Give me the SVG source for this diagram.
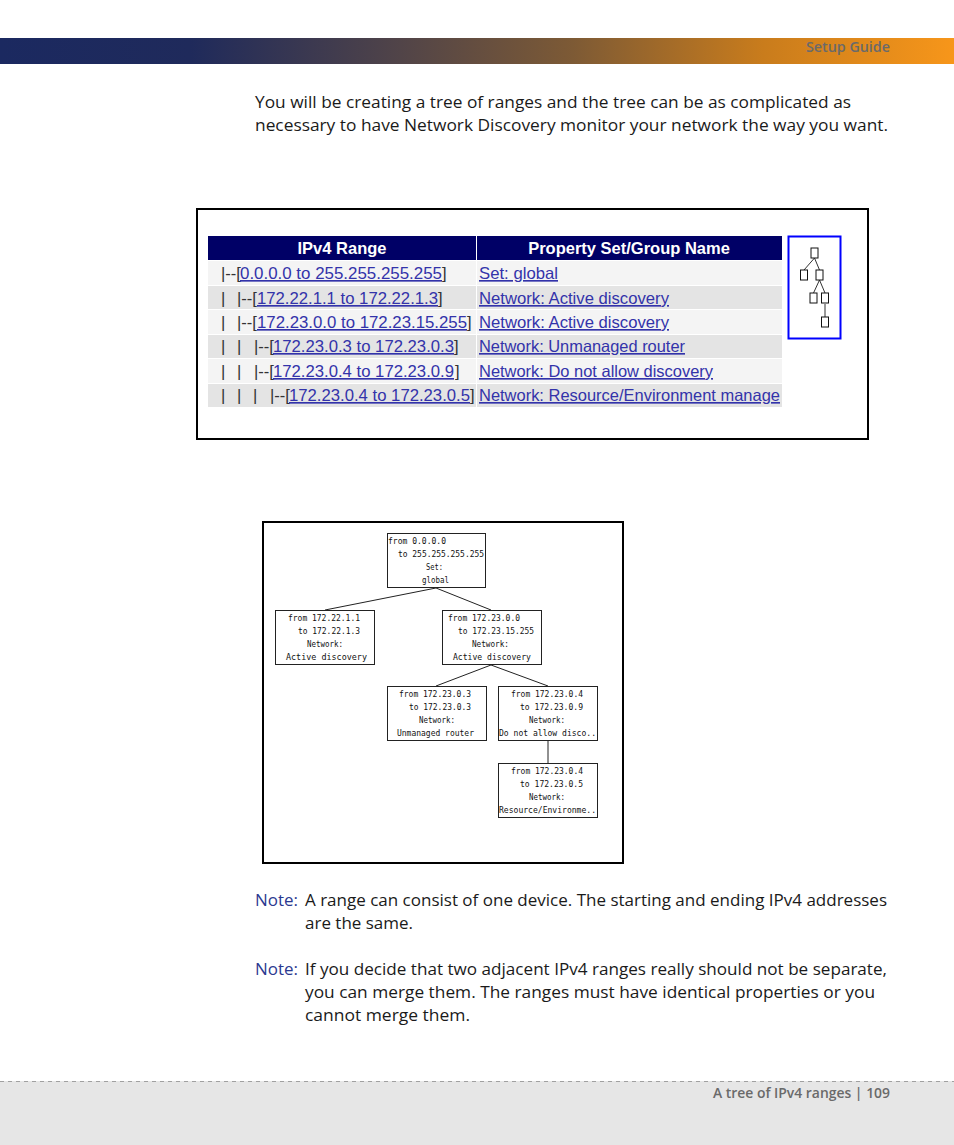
<svg xmlns="http://www.w3.org/2000/svg" width="954" height="1145" viewBox="0 0 954 1145">
<defs>
<linearGradient id="hdr" x1="0" y1="0" x2="1" y2="0">
<stop offset="0" stop-color="#1b2960"/>
<stop offset="0.2" stop-color="#1f2a5b"/>
<stop offset="0.42" stop-color="#514448"/>
<stop offset="0.6" stop-color="#7d5a35"/>
<stop offset="0.8" stop-color="#c97c1c"/>
<stop offset="1" stop-color="#f7961a"/>
</linearGradient>
<style>
.body{font-family:"Open Sans","Liberation Sans",sans-serif;font-size:17px;fill:#1a1a1a}
.note{fill:#2b3990}
.hf{font-family:"Open Sans","Liberation Sans",sans-serif;font-size:14px;font-weight:600;fill:#6a6a6a}
.th{font-family:"Liberation Sans",Arial,sans-serif;font-size:16.5px;font-weight:bold;fill:#ffffff}
.td{font-family:"Liberation Sans",Arial,sans-serif;font-size:16.5px;fill:#333333}
.lk{font-family:"Liberation Sans",Arial,sans-serif;font-size:16.5px;fill:#3333aa;text-decoration:underline}
.ra{fill:#f4f4f4}
.rb{fill:#e4e4e4}
.nb{fill:#ffffff;stroke:#222222;stroke-width:1}
.nt{font-family:"DejaVu Sans Mono","Liberation Mono",monospace;font-size:9px;fill:#111111}
.cn{stroke:#222222;stroke-width:1;fill:none}
.ib{fill:#ffffff;stroke:#111111;stroke-width:1}
.il{stroke:#333333;stroke-width:1;fill:none}
</style>
</defs>

<!-- header -->
<rect x="0" y="38" width="954" height="26" fill="url(#hdr)"/>
<text class="hf" x="890" y="52" text-anchor="end" textLength="84" lengthAdjust="spacingAndGlyphs">Setup Guide</text>

<!-- intro text -->
<text class="body" x="255" y="108" textLength="596" lengthAdjust="spacingAndGlyphs">You will be creating a tree of ranges and the tree can be as complicated as</text>
<text class="body" x="255" y="131" textLength="633" lengthAdjust="spacingAndGlyphs">necessary to have Network Discovery monitor your network the way you want.</text>

<!-- screenshot 1: table -->
<g id="table-screenshot">
<rect x="197" y="209" width="671" height="230" fill="#ffffff" stroke="#000000" stroke-width="2"/>
<rect x="208" y="236" width="268" height="24" fill="#000066"/>
<rect x="477" y="236" width="305" height="24" fill="#000066"/>
<text class="th" x="342" y="254" text-anchor="middle">IPv4 Range</text>
<text class="th" x="629" y="254" text-anchor="middle">Property Set/Group Name</text>

<rect class="ra" x="208" y="261" width="268" height="24"/><rect class="ra" x="477" y="261" width="305" height="24"/>
<rect class="rb" x="208" y="286" width="268" height="23"/><rect class="rb" x="477" y="286" width="305" height="23"/>
<rect class="ra" x="208" y="310" width="268" height="24"/><rect class="ra" x="477" y="310" width="305" height="24"/>
<rect class="rb" x="208" y="335" width="268" height="23"/><rect class="rb" x="477" y="335" width="305" height="23"/>
<rect class="ra" x="208" y="359" width="268" height="24"/><rect class="ra" x="477" y="359" width="305" height="24"/>
<rect class="rb" x="208" y="384" width="268" height="23"/><rect class="rb" x="477" y="384" width="305" height="23"/>

<text class="td" x="221" y="279">|--[</text>
<text class="lk" x="240" y="279" textLength="202" lengthAdjust="spacingAndGlyphs">0.0.0.0 to 255.255.255.255</text>
<text class="td" x="442" y="279">]</text>

<text class="td" x="221" y="304">|</text><text class="td" x="237" y="304">|--[</text>
<text class="lk" x="257" y="304" textLength="181" lengthAdjust="spacingAndGlyphs">172.22.1.1 to 172.22.1.3</text>
<text class="td" x="438" y="304">]</text>

<text class="td" x="221" y="328">|</text><text class="td" x="237" y="328">|--[</text>
<text class="lk" x="257" y="328" textLength="210" lengthAdjust="spacingAndGlyphs">172.23.0.0 to 172.23.15.255</text>
<text class="td" x="467" y="328">]</text>

<text class="td" x="221" y="352">|</text><text class="td" x="237" y="352">|</text><text class="td" x="254" y="352">|--[</text>
<text class="lk" x="273" y="352" textLength="181" lengthAdjust="spacingAndGlyphs">172.23.0.3 to 172.23.0.3</text>
<text class="td" x="454" y="352">]</text>

<text class="td" x="221" y="377">|</text><text class="td" x="237" y="377">|</text><text class="td" x="254" y="377">|--[</text>
<text class="lk" x="273" y="377" textLength="181" lengthAdjust="spacingAndGlyphs">172.23.0.4 to 172.23.0.9</text>
<text class="td" x="455" y="377">]</text>

<text class="td" x="221" y="401">|</text><text class="td" x="237" y="401">|</text><text class="td" x="253" y="401">|</text><text class="td" x="270" y="401">|--[</text>
<text class="lk" x="289" y="401" textLength="181" lengthAdjust="spacingAndGlyphs">172.23.0.4 to 172.23.0.5</text>
<text class="td" x="470" y="401">]</text>

<text class="lk" x="479" y="279" textLength="79" lengthAdjust="spacingAndGlyphs">Set: global</text>
<text class="lk" x="479" y="304" textLength="190" lengthAdjust="spacingAndGlyphs">Network: Active discovery</text>
<text class="lk" x="479" y="328" textLength="190" lengthAdjust="spacingAndGlyphs">Network: Active discovery</text>
<text class="lk" x="479" y="352" textLength="206" lengthAdjust="spacingAndGlyphs">Network: Unmanaged router</text>
<text class="lk" x="479" y="377" textLength="234" lengthAdjust="spacingAndGlyphs">Network: Do not allow discovery</text>
<text class="lk" x="479" y="401" textLength="301" lengthAdjust="spacingAndGlyphs">Network: Resource/Environment manage</text>

<!-- mini tree icon -->
<rect x="788.5" y="236.5" width="52" height="102" fill="#ffffff" stroke="#0000ff" stroke-width="2"/>
<path class="il" d="M814.5 258 L804 270 M814.5 258 L819.5 270 M819.5 280 L813.5 293 M819.5 280 L825 293 M825 304 L825 317"/>
<rect class="ib" x="811" y="248" width="7" height="10"/>
<rect class="ib" x="800.5" y="270" width="7" height="10"/>
<rect class="ib" x="816" y="270" width="7" height="10"/>
<rect class="ib" x="810" y="293" width="7" height="10"/>
<rect class="ib" x="821.5" y="293" width="7" height="10"/>
<rect class="ib" x="821.5" y="317" width="7" height="10"/>
</g>

<!-- screenshot 2: tree diagram -->
<rect x="263" y="522" width="360" height="341" fill="#ffffff" stroke="#000000" stroke-width="2"/>

<g id="connectors">
<line class="cn" x1="436" y1="588" x2="325" y2="610"/>
<line class="cn" x1="436" y1="588" x2="491" y2="610"/>
<line class="cn" x1="491" y1="665" x2="436" y2="686"/>
<line class="cn" x1="491" y1="665" x2="548" y2="686"/>
<line class="cn" x1="548" y1="741" x2="548" y2="763"/>
</g>

<g id="node-global">
<rect class="nb" x="387.5" y="533.5" width="98" height="54"/>
<text class="nt" x="388" y="544" textLength="58" lengthAdjust="spacingAndGlyphs">from 0.0.0.0</text>
<text class="nt" x="398" y="557" textLength="86" lengthAdjust="spacingAndGlyphs">to 255.255.255.255</text>
<text class="nt" x="426" y="570" textLength="17" lengthAdjust="spacingAndGlyphs">Set:</text>
<text class="nt" x="422" y="583" textLength="27" lengthAdjust="spacingAndGlyphs">global</text>
</g>

<g id="node-172-22-1-1">
<rect class="nb" x="275.5" y="610.5" width="99" height="54"/>
<text class="nt" x="288" y="621" textLength="72" lengthAdjust="spacingAndGlyphs">from 172.22.1.1</text>
<text class="nt" x="298" y="634" textLength="62" lengthAdjust="spacingAndGlyphs">to 172.22.1.3</text>
<text class="nt" x="307" y="647" textLength="36" lengthAdjust="spacingAndGlyphs">Network:</text>
<text class="nt" x="286" y="660" textLength="81" lengthAdjust="spacingAndGlyphs">Active discovery</text>
</g>

<g id="node-172-23-0-0">
<rect class="nb" x="442.5" y="610.5" width="99" height="54"/>
<text class="nt" x="448" y="621" textLength="72" lengthAdjust="spacingAndGlyphs">from 172.23.0.0</text>
<text class="nt" x="458" y="634" textLength="76" lengthAdjust="spacingAndGlyphs">to 172.23.15.255</text>
<text class="nt" x="472" y="647" textLength="37" lengthAdjust="spacingAndGlyphs">Network:</text>
<text class="nt" x="453" y="660" textLength="78" lengthAdjust="spacingAndGlyphs">Active discovery</text>
</g>

<g id="node-172-23-0-3">
<rect class="nb" x="387.5" y="686.5" width="99" height="54"/>
<text class="nt" x="399" y="697" textLength="72" lengthAdjust="spacingAndGlyphs">from 172.23.0.3</text>
<text class="nt" x="409" y="710" textLength="62" lengthAdjust="spacingAndGlyphs">to 172.23.0.3</text>
<text class="nt" x="419" y="723" textLength="36" lengthAdjust="spacingAndGlyphs">Network:</text>
<text class="nt" x="397" y="736" textLength="77" lengthAdjust="spacingAndGlyphs">Unmanaged router</text>
</g>

<g id="node-172-23-0-4-9">
<rect class="nb" x="498.5" y="686.5" width="99" height="54"/>
<text class="nt" x="511" y="697" textLength="72" lengthAdjust="spacingAndGlyphs">from 172.23.0.4</text>
<text class="nt" x="520" y="710" textLength="63" lengthAdjust="spacingAndGlyphs">to 172.23.0.9</text>
<text class="nt" x="529" y="723" textLength="36" lengthAdjust="spacingAndGlyphs">Network:</text>
<text class="nt" x="499" y="736" textLength="97" lengthAdjust="spacingAndGlyphs">Do not allow disco..</text>
</g>

<g id="node-172-23-0-4-5">
<rect class="nb" x="498.5" y="763.5" width="99" height="54"/>
<text class="nt" x="511" y="774" textLength="72" lengthAdjust="spacingAndGlyphs">from 172.23.0.4</text>
<text class="nt" x="520" y="787" textLength="63" lengthAdjust="spacingAndGlyphs">to 172.23.0.5</text>
<text class="nt" x="529" y="800" textLength="36" lengthAdjust="spacingAndGlyphs">Network:</text>
<text class="nt" x="499" y="813" textLength="97" lengthAdjust="spacingAndGlyphs">Resource/Environme..</text>
</g>

<!-- notes -->
<text class="body note" x="255" y="906" textLength="43" lengthAdjust="spacingAndGlyphs">Note:</text>
<text class="body" x="305" y="906" textLength="582" lengthAdjust="spacingAndGlyphs">A range can consist of one device. The starting and ending IPv4 addresses</text>
<text class="body" x="305" y="929" textLength="108" lengthAdjust="spacingAndGlyphs">are the same.</text>

<text class="body note" x="255" y="975" textLength="43" lengthAdjust="spacingAndGlyphs">Note:</text>
<text class="body" x="305" y="975" textLength="582" lengthAdjust="spacingAndGlyphs">If you decide that two adjacent IPv4 ranges really should not be separate,</text>
<text class="body" x="305" y="998" textLength="570" lengthAdjust="spacingAndGlyphs">you can merge them. The ranges must have identical properties or you</text>
<text class="body" x="305" y="1021" textLength="165" lengthAdjust="spacingAndGlyphs">cannot merge them.</text>

<!-- footer -->
<rect x="0" y="1081" width="954" height="64" fill="#e6e6e6"/>
<line x1="0" y1="1081.5" x2="954" y2="1081.5" stroke="#a0a0a0" stroke-width="1" stroke-dasharray="4,4"/>
<text class="hf" x="890" y="1098" text-anchor="end" textLength="177" lengthAdjust="spacingAndGlyphs">A tree of IPv4 ranges | 109</text>
</svg>
